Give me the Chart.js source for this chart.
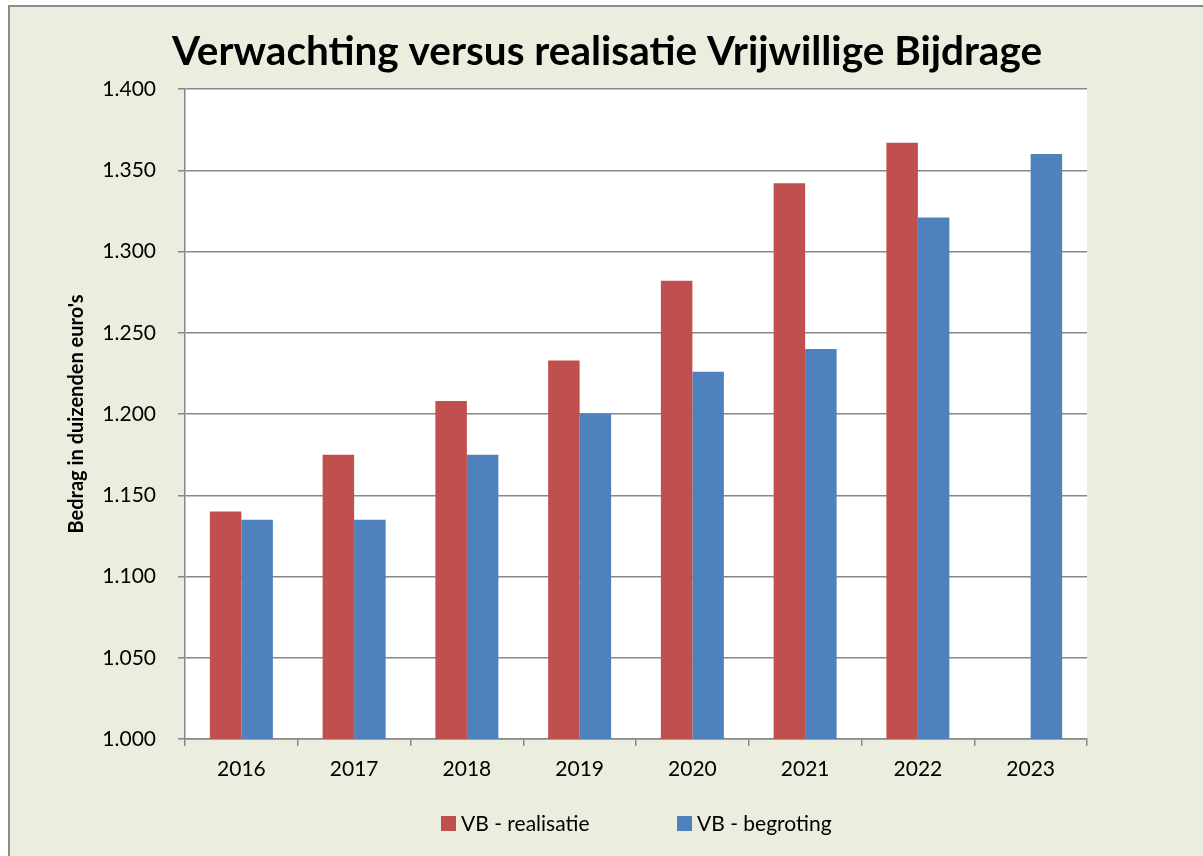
<!DOCTYPE html>
<html>
<head>
<meta charset="utf-8">
<script src="https://cdn.jsdelivr.net/npm/chart.js@4/dist/chart.umd.min.js"></script>
<style>
html,body{margin:0;padding:0;background:#fff;}
canvas{display:block;}
</style>
</head>
<body>
<canvas id="c" width="1203" height="856"></canvas>
<script>
const categories = ['2016','2017','2018','2019','2020','2021','2022','2023'];
const realisatie = [1140, 1175, 1208, 1233, 1282, 1342, 1367, null];
const begroting = [1135, 1135, 1175, 1200, 1226, 1240, 1321, 1360];
const yTickLabels = ['1.000','1.050','1.100','1.150','1.200','1.250','1.300','1.350','1.400'];
const seriesNames = ['VB - realisatie', 'VB - begroting'];
const titleText = 'Verwachting versus realisatie Vrijwillige Bijdrage';
const yTitleText = "Bedrag in duizenden euro's";

const RED = '#C0504D', BLUE = '#4F81BD', GRID = '#878787', BG = '#EBEEDF';
const FONT = 'Lato, Carlito, Calibri, "Open Sans", sans-serif';

const bgPlugin = {
  id: 'bg',
  beforeDraw(chart) {
    const ctx = chart.ctx, a = chart.chartArea;
    ctx.save();
    ctx.fillStyle = '#ffffff';
    ctx.fillRect(0, 0, chart.width, chart.height);
    ctx.fillStyle = BG;
    ctx.fillRect(8, 5, chart.width, chart.height);
    ctx.fillStyle = '#8c8c8c';
    ctx.fillRect(8, 5, chart.width, 2);
    ctx.fillRect(8, 5, 2, chart.height);
    ctx.fillStyle = '#ffffff';
    ctx.fillRect(a.left, a.top, a.right - a.left, a.bottom - a.top);
    ctx.restore();
  }
};

const legendPlugin = {
  id: 'customLegend',
  afterDraw(chart) {
    const ctx = chart.ctx;
    const xs = [441, 677];
    ctx.save();
    ctx.font = '21px ' + FONT;
    ctx.textBaseline = 'middle';
    ctx.textAlign = 'left';
    chart.data.datasets.forEach((ds, i) => {
      ctx.fillStyle = ds.backgroundColor;
      ctx.fillRect(xs[i], 816, 15, 15);
      ctx.fillStyle = '#000';
      ctx.fillText(ds.label, xs[i] + 20, 824);
    });
    ctx.restore();
  }
};

new Chart(document.getElementById('c'), {
  type: 'bar',
  data: {
    labels: categories,
    datasets: [
      { label: seriesNames[0], data: realisatie, backgroundColor: RED, categoryPercentage: 0.5588, barPercentage: 1.0 },
      { label: seriesNames[1], data: begroting, backgroundColor: BLUE, categoryPercentage: 0.5588, barPercentage: 1.0 }
    ]
  },
  options: {
    responsive: false,
    animation: false,
    layout: { padding: { left: 11, right: 0, top: 0, bottom: 57 } },
    plugins: {
      legend: { display: false },
      tooltip: { enabled: false },
      title: {
        display: true,
        text: titleText,
        color: '#000',
        font: { family: FONT, size: 40.5, weight: 'bold' },
        padding: { top: 27.7, bottom: 12.7 }
      }
    },
    scales: {
      x: {
        grid: { display: true, drawOnChartArea: false, drawTicks: true, tickLength: 7, color: GRID, lineWidth: 1.5, offset: true },
        border: { display: true, color: GRID, width: 1.5 },
        ticks: { color: '#000', font: { family: FONT, size: 21 }, padding: 11, maxRotation: 0 },
        afterFit(s) { s.height = 60; }
      },
      y: {
        min: 1000, max: 1400,
        grid: { color: GRID, lineWidth: 1.5, tickLength: 7, drawTicks: true },
        border: { display: true, color: GRID, width: 1.5 },
        ticks: {
          stepSize: 50, color: '#000', padding: 22,
          font: { family: FONT, size: 21 },
          callback: (v, i) => yTickLabels[i]
        },
        title: {
          display: true, text: yTitleText, color: '#000',
          font: { family: FONT, size: 20, weight: 'bold' },
          padding: { top: 54, bottom: 0 }
        },
        afterFit(s) { s.width = 174; }
      },
      yR: {
        position: 'right',
        display: true,
        grid: { display: false, drawTicks: false },
        border: { display: false },
        ticks: { display: false },
        afterFit(s) { s.width = 116; }
      }
    }
  },
  plugins: [bgPlugin, legendPlugin]
});
</script>
</body>
</html>
